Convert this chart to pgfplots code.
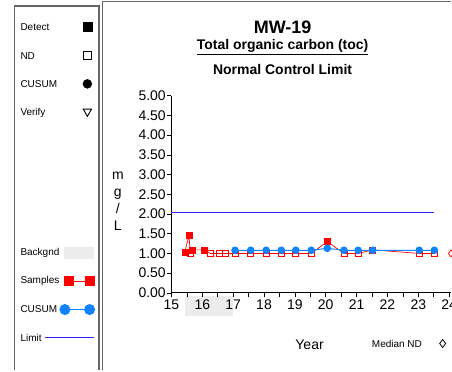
\documentclass[border=0pt]{standalone}
\usepackage{pgfplots}
\pgfplotsset{compat=1.18}
\usepackage{fontspec}
\setmainfont{Liberation Sans}
\definecolor{cusumblue}{RGB}{16,132,255}
\definecolor{limitblue}{RGB}{40,40,255}
\definecolor{framegray}{RGB}{100,100,100}
\definecolor{bandgray}{RGB}{236,236,236}
\begin{document}
\begin{tikzpicture}
% ---------- frame / legend layer (1 unit = 1pt, y upwards) ----------
\begin{axis}[at={(0pt,0pt)}, anchor=south west, x=1pt, y=1pt,
  xmin=0, xmax=452, ymin=0, ymax=371, hide axis, clip=false,
  every node/.style={font=\fontsize{11.3}{13}\selectfont}]
  \path[draw=none] (axis cs:0,0) rectangle (axis cs:452,371);
  \draw[framegray, line width=1.3pt] (axis cs:14.7,0) -- (axis cs:14.7,365) -- (axis cs:99,365) -- (axis cs:99,0);
  \draw[framegray, line width=1.3pt] (axis cs:102.7,0) -- (axis cs:102.7,369.3) -- (axis cs:452,369.3);
  % background band below the year axis (15.43 to 17.0)
  \addplot[fill=bandgray, draw=none] coordinates {(185,75) (233.3,75) (233.3,55) (185,55)} -- cycle;
  % titles
  \node[font=\bfseries\fontsize{18}{20}\selectfont] at (axis cs:283,344) {MW-19};
  \node[font=\bfseries\fontsize{14}{16}\selectfont] at (axis cs:283,324) {\underline{Total organic carbon (toc)}};
  \node[font=\bfseries\fontsize{14}{16}\selectfont] at (axis cs:283,301.5) {Normal Control Limit};
  % y label
  \node[font=\fontsize{14}{16}\selectfont, anchor=base] at (axis cs:118,191) {m};
  \node[font=\fontsize{14}{16}\selectfont, anchor=base] at (axis cs:118,174) {g};
  \node[font=\fontsize{14}{16}\selectfont, anchor=base] at (axis cs:118,157) {/};
  \node[font=\fontsize{14}{16}\selectfont, anchor=base] at (axis cs:118,140) {L};
  % x label
  \node[font=\fontsize{14}{16}\selectfont] at (axis cs:310,26) {Year};
  \node at (axis cs:397.5,27) {Median ND};
  \addplot[only marks, mark=diamond, mark size=4pt, mark options={black, line width=0.8pt}] coordinates {(443.3,27)};
  % legend panel texts
  \node[anchor=west] at (axis cs:17,344.3) {Detect};
  \node[anchor=west] at (axis cs:17,315) {ND};
  \node[anchor=west] at (axis cs:17,287) {CUSUM};
  \node[anchor=west] at (axis cs:17,258.3) {Verify};
  \node[anchor=west] at (axis cs:17,117.7) {Backgnd};
  \node[anchor=west] at (axis cs:17,89.3) {Samples};
  \node[anchor=west] at (axis cs:17,61) {CUSUM};
  \node[anchor=west] at (axis cs:17,32.7) {Limit};
  % legend panel symbols
  \addplot[only marks, mark=square*, mark size=4.5pt, mark options={black}] coordinates {(87.5,344.3)};
  \addplot[only marks, mark=square, mark size=4pt, mark options={black, line width=0.9pt}] coordinates {(87.5,315)};
  \addplot[only marks, mark=*, mark size=4.5pt, mark options={black}] coordinates {(87.5,287)};
  \addplot[only marks, mark=triangle, mark size=4.8pt, mark options={black, rotate=180, line width=0.9pt}] coordinates {(87.5,259.3)};
  \addplot[fill=bandgray, draw=none] coordinates {(64.3,112) (94.3,112) (94.3,124) (64.3,124)} -- cycle;
  \addplot[red, line width=0.8pt, mark=square*, mark size=4.5pt, mark options={red}] coordinates {(68.8,89.3) (89.7,89.3)};
  \addplot[cusumblue, line width=1pt, mark=*, mark size=5pt, mark options={cusumblue}] coordinates {(65,61) (89.7,61)};
  \addplot[draw=limitblue, line width=1.1pt, mark=none] coordinates {(45,32.7) (94.3,32.7)};
\end{axis}
% ---------- data axis ----------
\begin{axis}[at={(171.7pt,77.7pt)}, anchor=south west,
  x=30.9pt, y=39.5pt,
  xmin=15, xmax=24.07, ymin=0, ymax=5,
  axis x line=bottom, axis y line=left,
  axis line style={-, black, line width=0.8pt},
  xtick={15,16,...,24}, minor xtick={15.5,16.5,...,23.5},
  ytick={0,0.5,1,1.5,2,2.5,3,3.5,4,4.5,5},
  tick align=outside, major tick length=4.5pt, minor tick length=4pt,
  tick style={black, line width=0.6pt},
  yticklabel style={/pgf/number format/fixed, /pgf/number format/fixed zerofill, /pgf/number format/precision=2, inner sep=1pt},
  xticklabel style={inner sep=2.5pt, overlay},
  ticklabel style={font=\fontsize{14}{16}\selectfont},
  /pgf/number format/assume math mode=true,
  clip=false]
  % limit
  \addplot[limitblue, line width=1pt] coordinates {(15,2.05) (23.52,2.05)};
  % samples line
  \addplot[red, line width=0.7pt] coordinates {
    (15.43,1.04) (15.57,1.45) (15.61,1.00) (15.68,1.09) (16.05,1.09)
    (16.26,1.00) (16.54,1.00) (16.76,1.00) (17.06,1.00) (17.57,1.00)
    (18.07,1.00) (18.56,1.00) (19.03,1.00) (19.53,1.00) (20.05,1.30)
    (20.59,1.00) (21.05,1.00) (21.52,1.09) (23.03,1.00) (23.52,1.00)};
  % non-detects
  \addplot[only marks, mark=square, mark size=3pt, mark options={red, line width=0.7pt}] coordinates {
    (15.61,1.00) (16.26,1.00) (16.54,1.00) (16.76,1.00) (17.06,1.00) (17.57,1.00)
    (18.07,1.00) (18.56,1.00) (19.03,1.00) (19.53,1.00) (20.59,1.00) (21.05,1.00)
    (23.03,1.00) (23.52,1.00)};
  % detects
  \addplot[only marks, mark=square*, mark size=3pt, mark options={red}] coordinates {
    (15.43,1.04) (15.57,1.45) (15.68,1.09) (16.05,1.09) (20.05,1.30) (21.52,1.09)};
  % CUSUM
  \addplot[cusumblue, line width=1pt, mark=*, mark size=3.3pt, mark options={cusumblue}] coordinates {
    (17.06,1.08) (17.57,1.08) (18.07,1.08) (18.56,1.08) (19.03,1.08) (19.53,1.08)
    (20.05,1.13) (20.59,1.08) (21.05,1.08) (21.52,1.08) (23.03,1.08) (23.52,1.08)};
  % median ND
  \addplot[only marks, overlay, mark=diamond, mark size=3.5pt, mark options={red, line width=0.7pt}] coordinates {(24.06,1.00)};
\end{axis}
\end{tikzpicture}
\end{document}
